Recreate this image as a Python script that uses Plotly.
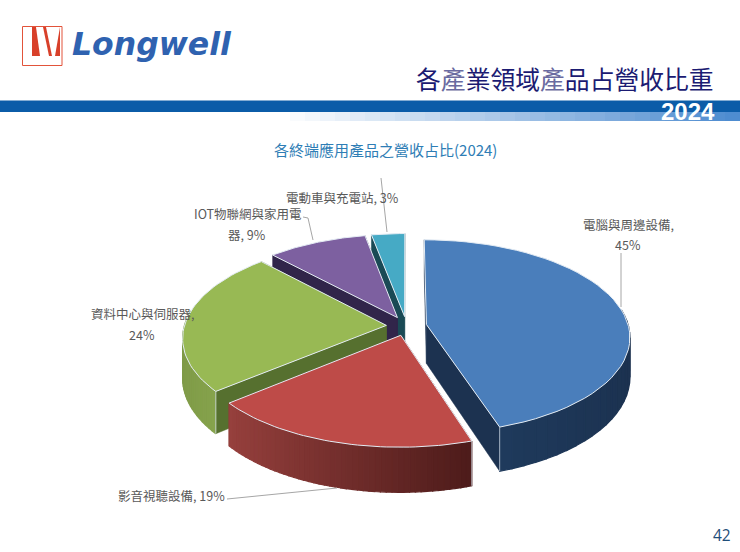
import math
import plotly.graph_objects as go

categories = ["電腦與周邊設備", "影音視聽設備", "資料中心與伺服器", "IOT物聯網與家用電器", "電動車與充電站"]
values = [45, 19, 24, 9, 3]
top_colors = ["#4A7EBB", "#BE4B48", "#98B954", "#7D60A0", "#46AAC5"]
radial_colors = ["#1C3250", "#7A2F2D", "#56702F", "#31254A", "#1A4A55"]
wall_left = ["#1F3A5C", "#96403D", "#7F9A48", "#31254A", "#1A4A55"]
wall_right = ["#1C3250", "#4E1C1B", "#86A34C", "#31254A", "#1A4A55"]

FONT = "Noto Sans CJK TC"
CX, CY = 406.5, 326
K, Q, P = 202, 0.473, 0.124
EXPLODE = 0.1
DEPTH = 39

def project(x, y, drop=0):
    d = 1 - P * y
    return CX + K * x / d, CY + K * Q * y / d + drop / d

def mix(a, b, t):
    ca = [int(a[i:i + 2], 16) for i in (1, 3, 5)]
    cb = [int(b[i:i + 2], 16) for i in (1, 3, 5)]
    return "rgb(%d,%d,%d)" % tuple(ca[i] + (cb[i] - ca[i]) * t for i in range(3))

def poly(fig, pts, fill, line=None, width=1.2):
    fig.add_trace(go.Scatter(
        x=[p[0] for p in pts] + [pts[0][0]],
        y=[p[1] for p in pts] + [pts[0][1]],
        mode="lines", fill="toself", fillcolor=fill,
        line=dict(color=line or fill, width=width),
        hoverinfo="skip", showlegend=False,
    ))

def edge(fig, p, color="#C9D3DE"):
    a, b = project(*p), project(*p, DEPTH)
    fig.add_trace(go.Scatter(x=[a[0], b[0]], y=[a[1], b[1]], mode="lines",
                             line=dict(color=color, width=0.8), hoverinfo="skip", showlegend=False))

fig = go.Figure()

# slices, drawn back to front
total = sum(values)
spans = []
start = 0
for v in values:
    spans.append((start, start + v / total * 2 * math.pi))
    start = spans[-1][1]

for i in [4, 3, 2, 0, 1]:
    a0, a1 = spans[i]
    mid = (a0 + a1) / 2
    ox, oy = EXPLODE * math.sin(mid), -EXPLODE * math.cos(mid)
    n = 48
    angles = [a0 + (a1 - a0) * j / n for j in range(n + 1)]
    rim = [(ox + math.sin(a), oy - math.cos(a)) for a in angles]
    apex = (ox, oy)

    def wall(p, q):
        return [project(*p), project(*q), project(*q, DEPTH), project(*p, DEPTH)]

    radials = sorted([rim[0], rim[-1]], key=lambda r: r[1])
    poly(fig, wall(apex, radials[0]), radial_colors[i], width=0.5)
    poly(fig, wall(apex, radials[1]), radial_colors[i], width=0.5)

    seg = [j for j in range(n) if rim[j][1] > -0.15 or rim[j + 1][1] > -0.15]
    xs = [rim[j][0] for j in seg] or [0, 1]
    for j in seg:
        t = (rim[j][0] - min(xs)) / (max(xs) - min(xs) or 1)
        poly(fig, wall(rim[j], rim[j + 1]), mix(wall_left[i], wall_right[i], t))

    if i < 3:
        edge(fig, radials[1])
    poly(fig, [project(*apex)] + [project(*r) for r in rim], top_colors[i], "#E4ECF4", 1)

# labels
text_col = "#595959"
def note(x, y, s, size=12.5, color=text_col, anchor="center", **kw):
    fig.add_annotation(x=x, y=y, text=s, showarrow=False, xanchor=anchor, yanchor="middle",
                       font=dict(family=kw.pop("family", FONT), size=size, color=color), **kw)

note(628, 224, categories[0] + ",")
note(628, 244, f"{values[0]}%")
note(171, 495, f"{categories[1]}, {values[1]}%")
note(142, 313, categories[2] + ",")
note(142, 334, f"{values[2]}%")
note(248, 213, categories[3][:-1])
note(247, 234, f"{categories[3][-1]}, {values[3]}%")
note(342, 197, f"{categories[4]}, {values[4]}%")

# header
note(385, 149, "各終端應用產品之營收占比(2024)", size=15, color="#2E7DB5")
note(565, 78, '各<span style="color:#6A6AA0">產</span>業領域<span style="color:#6A6AA0">產</span>品占營收比重',
     size=24.8, color="#1B1B72")
note(688, 111, "<b>2024</b>", size=24, color="white", family="Liberation Sans")
note(152, 44, "<b><i>Longwell</i></b>", size=31.5, color="#2F62B0", family="DejaVu Sans")
note(722, 535, "42", size=15.5, color="#1F4E79", family="Open Sans")

shapes = []
def rect(x0, y0, x1, y1, fill, line=None):
    shapes.append(dict(type="rect", x0=x0, y0=y0, x1=x1, y1=y1, fillcolor=fill,
                       line=dict(color=line or fill, width=1 if line else 0), layer="below"))

rect(0, 100.5, 740, 112, "#0B5CA8")
steps = 30
for s in range(steps):
    x0 = 290 + (740 - 290) * s / steps
    x1 = 290 + (740 - 290) * (s + 1) / steps
    rect(x0, 112, x1, 121, mix("#FFFFFF", "#4E8CD0", (s + 1) / steps))

# logo
rect(22.5, 26.5, 62, 65.5, "#FFFFFF", "#E2533A")
shapes.append(dict(type="path", path="M 32 27 L 60 27 L 60 56 L 32 56 Z", fillcolor="#D8402A",
                   line=dict(width=0), layer="below"))
for p in ["M 36 27 L 43 27 L 49 56 L 40 56 Z", "M 46 27 L 60 27 L 55 56 L 52 56 Z"]:
    shapes.append(dict(type="path", path=p, fillcolor="#FFFFFF", line=dict(width=0), layer="below"))

# leader lines
for p in ["M 621 253 L 621 307", "M 381 178 L 387 232", "M 303 217 L 308 218 L 313 240", "M 227 499 L 337 488"]:
    shapes.append(dict(type="path", path=p, line=dict(color="#A6A6A6", width=1)))

fig.update_layout(
    width=740, height=552, margin=dict(l=0, r=0, t=0, b=0),
    paper_bgcolor="white", plot_bgcolor="white", shapes=shapes, showlegend=False,
    xaxis=dict(range=[0, 740], visible=False, fixedrange=True),
    yaxis=dict(range=[552, 0], visible=False, fixedrange=True),
)
fig.write_html("out.html", config=dict(displayModeBar=False),
               post_script="document.body.style.margin='0';document.body.style.overflow='hidden';")
